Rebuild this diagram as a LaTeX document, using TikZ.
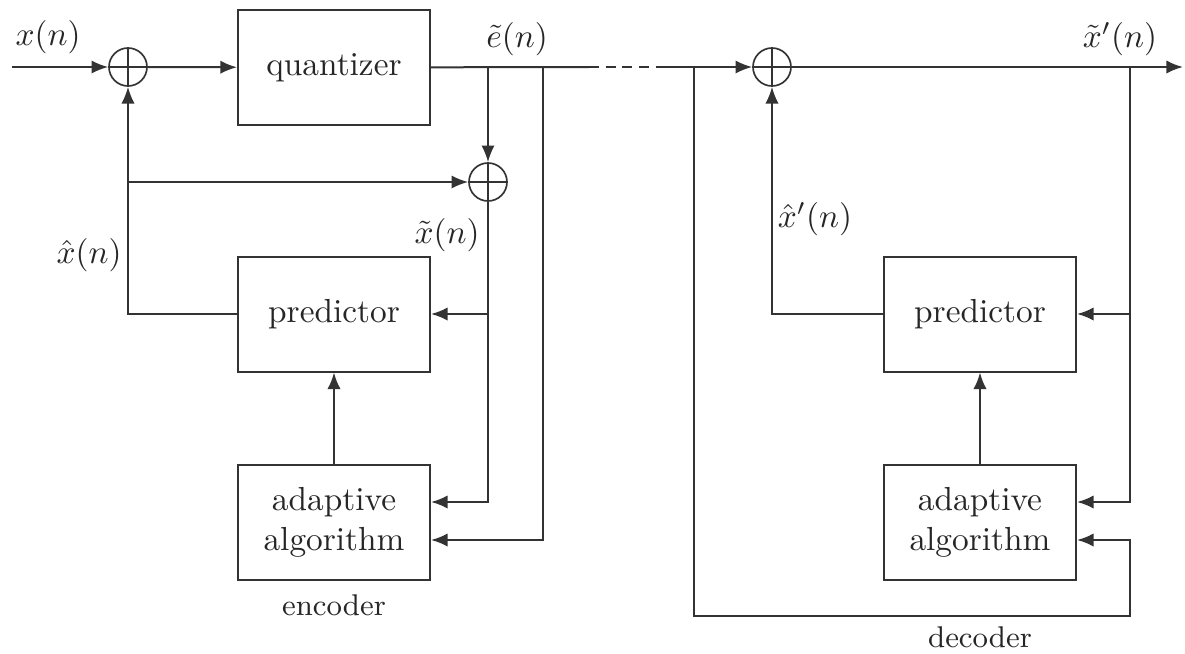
\documentclass[tikz,border=0pt]{standalone}
\usetikzlibrary{arrows.meta}
\begin{document}
\begin{tikzpicture}[x=0.3pt,y=-0.3pt,
  line width=0.6pt,
  every node/.style={text=black!85},
  blk/.style={draw=black!80, minimum width=57.6pt, minimum height=34.5pt, inner sep=0pt, align=center},
  sumnode/.style={circle, draw=black!80, line width=0.5pt, minimum size=11.4pt, inner sep=0pt,
    path picture={\draw[black!80, line width=0.5pt] (path picture bounding box.north) -- (path picture bounding box.south)
      (path picture bounding box.west) -- (path picture bounding box.east);}},
  arr/.style={draw=black!80, -{Latex[length=5pt,width=4pt]}},
  ln/.style={draw=black!80},
  dsh/.style={draw=black!80, dash pattern=on 3pt off 2pt}]
\useasboundingbox (0,0) rectangle (1185,654);

% blocks
\node[sumnode] (s1) at (128,67) {};
\node[blk] (q) at (334,67.5) {quantizer};
\node[sumnode] (s2) at (488,182) {};
\node[blk] (p1) at (334,314) {predictor};
\node[blk] (a1) at (334,522) {adaptive\\algorithm};
\node[sumnode] (s3) at (772,67) {};
\node[blk] (p2) at (980,314) {predictor};
\node[blk] (a2) at (980,522) {adaptive\\algorithm};

% coordinates
\coordinate (in) at (12,67);
\coordinate (j1) at (488,67);
\coordinate (j2) at (543,67);
\coordinate (d1) at (589,67);
\coordinate (d2) at (657,67);
\coordinate (j3) at (694,67);
\coordinate (j4) at (1130,67);
\coordinate (out) at (1183,67);
\coordinate (bl) at (1130,616);

% encoder connectors
\draw[arr] (in) -- (s1);
\draw[arr] (s1) -- (q);
\draw[ln] (q) -- (d1);
\draw[dsh] (d1) -- (d2);
\draw[arr] (j1) -- (s2);
\draw[arr] (p1.west) -| (s1.south);
\draw[arr] (s1 |- s2) -- (s2);
\draw[arr] (s2.south) |- ([yshift=6pt]a1.east);
\draw[arr] (s2 |- p1) -- (p1.east);
\draw[arr] (j2) |- ([yshift=-5.4pt]a1.east);
\draw[arr] (a1) -- (p1);

% decoder connectors
\draw[arr] (d2) -- (s3);
\draw[arr] (s3) -- (out);
\draw[arr] (j4) |- ([yshift=6pt]a2.east);
\draw[arr] (j4 |- p2) -- (p2.east);
\draw[arr] (p2.west) -| (s3.south);
\draw[arr] (j3) |- (bl) |- ([yshift=-5.4pt]a2.east);
\draw[arr] (a2) -- (p2);

% labels
\node (lx) at (48,37) {$x(n)$};
\node (le) at (517,39) {$\tilde e(n)$};
\node (lxh) at (89,255) {$\hat x(n)$};
\node (lxt) at (447,235) {$\tilde x(n)$};
\node (lxp) at (1120,39) {$\tilde x'(n)$};
\node (lxhp) at (815,219) {$\hat x'(n)$};
\node[font=\small] (enc) at (334,605) {encoder};
\node[font=\small] (dec) at (980,637) {decoder};
\end{tikzpicture}
\end{document}
